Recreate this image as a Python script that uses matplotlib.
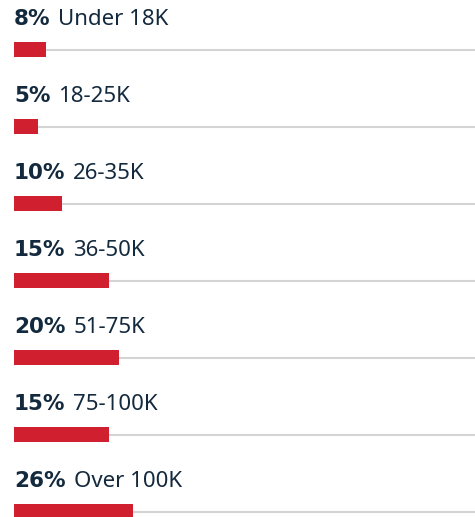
import matplotlib
matplotlib.use("Agg")
import matplotlib.pyplot as plt

# income brackets, top to bottom
categories = ["Under 18K", "18-25K", "26-35K", "36-50K", "51-75K", "75-100K", "Over 100K"]
pct_labels = ["8%", "5%", "10%", "15%", "20%", "15%", "26%"]
# bar length as drawn in the source, in % of the grey track
bar_lengths = [6.9, 5.2, 10.4, 20.6, 22.8, 20.6, 25.8]

RED = "#d0202f"
NAVY = "#13293d"
TRACK = "#d4d4d4"

W, H = 475, 517
fig = plt.figure(figsize=(W / 100, H / 100), dpi=100)
ax = fig.add_axes([14 / W, 0, 1 - 14 / W, 1])

row_px = 77.0
first_px = 49.5
ax.set_xlim(0, 100)
ax.set_ylim((H - first_px) / row_px, -first_px / row_px)
ax.axis("off")

bar_h = 15 / row_px
for i, (cat, pct, length) in enumerate(zip(categories, pct_labels, bar_lengths)):
    ax.plot([0, 100], [i, i], color=TRACK, lw=1.5, solid_capstyle="butt", zorder=1, clip_on=False)
    ax.barh(i, length, height=bar_h, left=0, color=RED, zorder=2)

    t = ax.annotate(pct, xy=(0, i), xytext=(0, 24.5 * 0.72), textcoords="offset points",
                    ha="left", va="baseline", fontsize=15.5, fontweight="bold",
                    family="DejaVu Sans", color=NAVY)
    fig.canvas.draw()
    w_px = t.get_window_extent().width
    ax.annotate(cat, xy=(0, i), xytext=((w_px + 8) * 0.72, 24.5 * 0.72), textcoords="offset points",
                ha="left", va="baseline", fontsize=16, family="Noto Sans", color=NAVY)

fig.savefig("out.png", dpi=100)
